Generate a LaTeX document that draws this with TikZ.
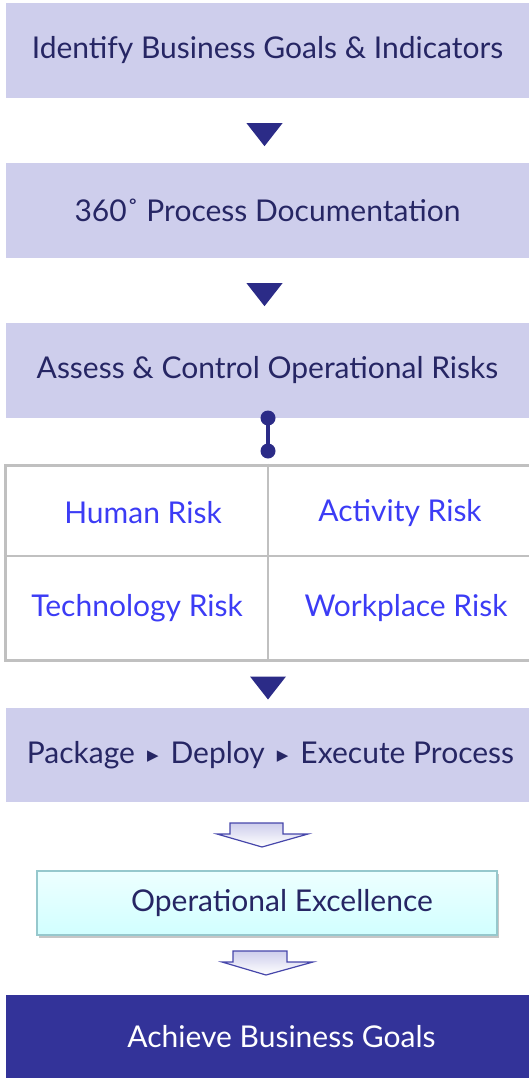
\documentclass[tikz,border=0pt]{standalone}
\usepackage{fontspec}
\setmainfont{Lato}
\newfontfamily\symfont{DejaVu Sans}
\usetikzlibrary{calc,shadows}

\definecolor{boxfill}{RGB}{206,206,236}
\definecolor{navy}{RGB}{43,43,135}
\definecolor{boxtext}{RGB}{38,38,100}
\definecolor{risktext}{RGB}{60,60,245}
\definecolor{gridline}{RGB}{192,192,192}
\definecolor{goalfill}{RGB}{51,51,153}
\definecolor{arrowline}{RGB}{70,70,170}
\definecolor{excelline}{RGB}{150,200,205}

\newcommand{\stepmark}{\hspace{12pt}\raisebox{3pt}{\symfont\fontsize{15}{15}\selectfont ▶}\hspace{12pt}}

\tikzset{
  stepbox/.style={fill=boxfill, text=boxtext, minimum width=523pt, minimum height=95pt,
    inner sep=0pt, font=\fontsize{30}{36}\selectfont},
  risk/.style={text=risktext, font=\fontsize{30}{36}\selectfont},
  pointer/.style={fill=navy},
  blockarrow/.style={draw=arrowline, line width=1.2pt, top color=boxfill, bottom color=white},
}

\begin{document}
\begin{tikzpicture}[x=1pt, y=-1pt]
\useasboundingbox (0,0) rectangle (529,1078);
% process steps
\node[stepbox] (goals) at (267.5,50.5) {Identify Business Goals \& Indicators};
\node[stepbox] (docu) at (267.5,210.5) {360˚ Process Documentation};
\node[stepbox] (assess) at (267.5,370.5) {Assess \& Control Operational Risks};
\node[stepbox, minimum height=94pt] (deploy) at (267.5,755)
  {\hspace{6pt}Package\stepmark Deploy\stepmark Execute Process};

% triangles between steps
\fill[pointer] ($(goals.south)+(-21,25)$) -- ++(36,0) -- ++(-18,23) -- cycle;
\fill[pointer] ($(docu.south)+(-21,25)$) -- ++(36,0) -- ++(-18,23) -- cycle;

% risk grid
\node[draw=gridline, line width=3pt, minimum width=530pt, minimum height=195pt] (riskgrid) at (270,562.5) {};
\draw[gridline, line width=2pt] (riskgrid.west |- 0,556) -- (riskgrid.east |- 0,556);
\draw[gridline, line width=2pt] (riskgrid.north -| 268,0) -- (riskgrid.south -| 268,0);
\node[risk] (human) at (143,513) {Human Risk};
\node[risk] (activity) at (400,513) {Activity Risk};
\node[risk] (tech) at (137,608) {Technology Risk};
\node[risk] (workplace) at (406,608) {Workplace Risk};

% link from assess to grid
\coordinate (linktop) at (268,418);
\coordinate (linkbot) at (268,451);
\draw[navy, line width=4pt, drop shadow={opacity=0.3, shadow xshift=1pt, shadow yshift=-2pt}] (linktop) -- (linkbot);
\fill[navy] (linktop) circle (7.5pt) (linkbot) circle (7.5pt);

\fill[pointer] ($(riskgrid.south)+(-20,15)$) -- ++(36,0) -- ++(-18,23) -- cycle;

% towards excellence
\node[draw=excelline, line width=1.5pt, top color=cyan!7, bottom color=cyan!18, text=boxtext,
  minimum width=460pt, minimum height=64pt, font=\fontsize{30}{36}\selectfont,
  drop shadow={opacity=0.45, shadow xshift=2pt, shadow yshift=-3pt}] (excel) at (267,903)
  {\hspace{30pt}Operational Excellence};
\node[fill=goalfill, text=white, minimum width=523pt, minimum height=83pt,
  font=\fontsize{30}{36}\selectfont] (achieve) at (267.5,1036.5) {\hspace{28pt}Achieve Business Goals};

\draw[blockarrow] (230,823) -- (283,823) -- (283,834) -- (308,834) -- (262,847)
  -- (217,834) -- (230,834) -- cycle;
\draw[blockarrow] (233,951) -- (287,951) -- (287,962) -- (313,962) -- (266,975)
  -- (222,962) -- (233,962) -- cycle;
\end{tikzpicture}
\end{document}
